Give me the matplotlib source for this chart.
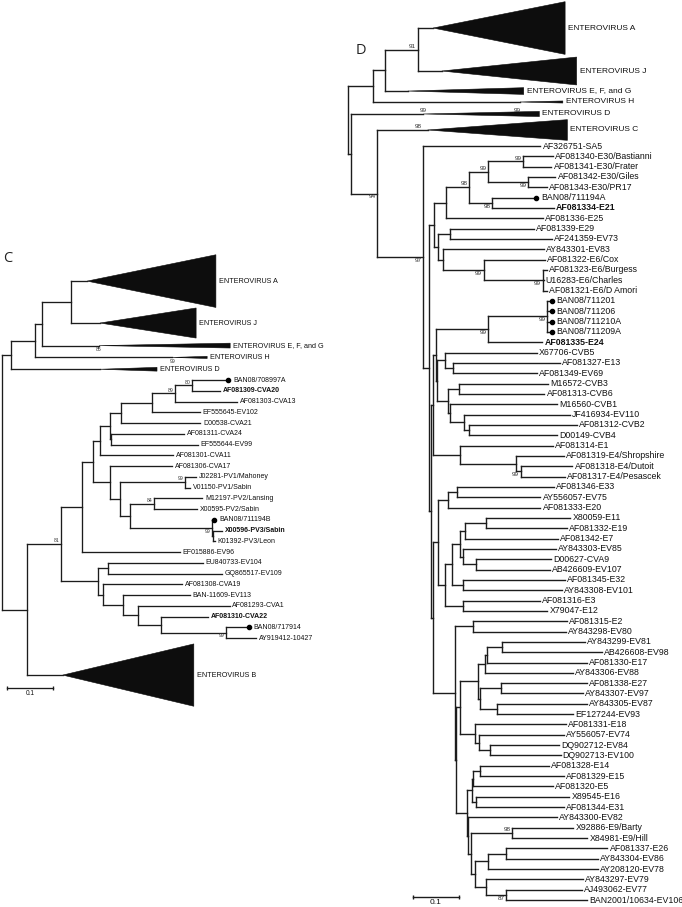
#!/usr/bin/env python
"""
Two collapsed enterovirus trees (panels C and D) drawn as rectangular cladograms.
"""

import matplotlib

matplotlib.use("Agg")
import matplotlib.pyplot as plt
from matplotlib.collections import LineCollection
from matplotlib.patches import Polygon

# ---------------------------------------------------------------------------
# Panel C  (branch lengths in substitutions/site, support after ")")
# ---------------------------------------------------------------------------
C_OTHER_SPECIES = "((((EV-A:0.035,EV-J:0.063):0.063,EV-EFG:0.124):0.015,EV-H:0.298):0.052,EV-D:0.193):0.020"
C_CVA20 = "(BAN08/708997A:0.076,AF081309-CVA20:0.061)80:0.037"
C_CVA13 = f"(((({C_CVA20},AF081303-CVA13:0.135)89:0.050,EF555645-EV102:0.104):0.067,D00538-CVA21:0.172):0.024,(AF081311-CVA24:0.159,EF555644-EV99:0.189):0.002):0.022"
C_CVA11 = f"({C_CVA13},AF081301-CVA11:0.159):0.015"
C_PV1 = "(J02281-PV1/Mahoney:0.024,V01150-PV1/Sabin:0.011)99:0.141"
C_PV2 = "(M12197-PV2/Lansing:0.104,X00595-PV2/Sabin:0.093)84:0.052"
C_PV3 = "(BAN08/711194B:0.002,(X00596-PV3/Sabin:0.020,K01392-PV3/Leon:0.004):0.002)99:0.178"
C_POLIO = f"(AF081306-CVA17:0.135,({C_PV1},({C_PV2},{C_PV3}):0.022):0.022):0.037"
C_UPPER = f"(({C_CVA11},{C_POLIO}):0.024,EF015886-EV96:0.213):0.046"
C_LOWER = ("((EU840733-EV104:0.207,GQ865517-EV109:0.248):0.022,(AF081308-CVA19:0.172,"
           "(BAN-11609-EV113:0.146,(AF081293-CVA1:0.200,(AF081310-CVA22:0.102,"
           "(BAN08/717914:0.046,AY919412-10427:0.065)99:0.143):0.050):0.033):0.043):0.011):0.080")
TREE_C = f"({C_OTHER_SPECIES},(({C_UPPER},{C_LOWER})81:0.074,EV-B:0.078):0.054);"

C_CLADES = ["EV-A", "EV-J", "EV-EFG", "EV-H", "EV-D", "EV-B"]
C_CLADE_NAMES = ["ENTEROVIRUS A", "ENTEROVIRUS J", "ENTEROVIRUS E, F, and G",
                 "ENTEROVIRUS H", "ENTEROVIRUS D", "ENTEROVIRUS B"]
C_CLADE_DEPTH = [0.280, 0.209, 0.285, 0.076, 0.124, 0.285]
C_CLADE_WIDTH = [4.9, 2.8, 0.45, 0.2, 0.35, 5.8]
C_CLADE_ROWS = [4.6, 3.2, 1.0, 1.2, 1.0, 5.9]
C_CLADE_SUPPORT = {"EV-EFG": [(0.0, "85")], "EV-H": [(0.0, "99")]}
C_BOLD = ["AF081309-CVA20", "X00596-PV3/Sabin", "AF081310-CVA22"]
C_DOTS = ["BAN08/708997A", "BAN08/711194B", "BAN08/717914"]

# ---------------------------------------------------------------------------
# Panel D
# ---------------------------------------------------------------------------
D_OTHER_SPECIES = "(((EV-A:0.033,EV-J:0.052)91:0.072,EV-EFG:0.050):0.026,EV-H:0.320):0.054"
D_E30 = ("((AF081340-E30/Bastianni:0.065,AF081341-E30/Frater:0.061)99:0.076,"
         "(AF081342-E30/Giles:0.059,AF081343-E30/PR17:0.041)99:0.087)99:0.041")
D_E21 = f"(({D_E30},(BAN08/711194A:0.093,AF081334-E21:0.133)98:0.050)98:0.050,AF081336-E25:0.209):0.028"
D_E6 = ("((AF081339-E29:0.183,AF241359-EV73:0.222):0.026,(AY843301-EV83:0.220,"
        "(AF081322-E6/Cox:0.133,(AF081323-E6/Burgess:0.009,U16283-E6/Charles:0.002,"
        "AF081321-E6/D Amori:0.009)99:0.128)99:0.089):0.011):0.009")
D_E24 = ("((BAN08/711201:0.007,BAN08/711206:0.007,BAN08/711210A:0.007,BAN08/711209A:0.007)99:0.128,"
         "AF081335-E24:0.117)99:0.113")
D_CVB = ("((X67706-CVB5:0.200,(AF081327-E13:0.233,AF081349-EV69:0.183):0.017):0.017,"
         "((M16572-CVB3:0.193,AF081313-CVB6:0.185):0.024,(M16560-CVB1:0.233,"
         "(JF416934-EV110:0.230,(AF081312-CVB2:0.235,D00149-CVB4:0.191):0.011):0.030):0.004):0.024):0.002")
D_E4 = ("(AF081314-E1:0.202,(AF081319-E4/Shropshire:0.104,(AF081318-E4/Dutoit:0.113,"
        "AF081317-E4/Pesascek:0.096)99:0.009):0.122):0.059")
D_E20 = "((AF081346-E33:0.209,AY556057-EV75:0.180):0.020,AF081333-E20:0.200):0.022"
D_E11 = ("((((X80059-E11:0.183,AF081332-E19:0.176):0.046,AF081342-E7:0.202):0.011,"
         "(AY843303-EV85:0.202,(D00627-CVA9:0.163,AB426609-EV107:0.161):0.028):0.007):0.017,"
         "(AF081345-E32:0.222,AY843308-EV101:0.215):0.024):0.015")
D_E3 = f"({D_E11},(AF081316-E3:0.167,X79047-E12:0.183):0.039):0.015"
D_E17 = ("((((AY843299-EV81:0.180,AB426608-EV98:0.217):0.033,AF081330-E17:0.217):0.004,"
         "AY843306-EV88:0.191):0.015,((AF081338-E27:0.187,AY843307-EV97:0.178):0.046,"
         "(AY843305-EV87:0.196,EF127244-EV93:0.165):0.037):0.004):0.039")
D_E18 = ("(AF081331-E18:0.196,(AY556057-EV74:0.185,(DQ902712-EV84:0.150,"
         "DQ902713-EV100:0.154):0.024):0.007):0.033")
D_E14 = ("(((AF081328-E14:0.150,AF081329-E15:0.183):0.015,AF081320-E5:0.174):0.002,"
         "(X89545-E16:0.202,AF081344-E31:0.191):0.009):0.011")
D_E9 = ("(AY843300-EV82:0.193,((X92886-E9/Barty:0.133,X84981-E9/Hill:0.163)98:0.089,"
        "(((AF081337-E26:0.220,AY843304-EV86:0.200):0.039,AY208120-EV78:0.239):0.030,"
        "(AY843297-EV79:0.209,(AJ493062-EV77:0.165,BAN2001/10634-EV106:0.176)87:0.043):0.026)"
        ":0.007):0.007):0.002")
D_E2 = (f"((AF081315-E2:0.204,AY843298-EV80:0.202):0.039,"
        f"(({D_E17},{D_E18}):0.009,({D_E14},{D_E9}):0.024):0.002):0.048")
D_EVB = (f"(({D_E21},{D_E6}):0.009,((({D_E24},{D_CVB}):0.007,{D_E4}):0.004,"
         f"(({D_E20},{D_E3}):0.011,{D_E2}):0.004):0.004):0.013")
TREE_D = (f"({D_OTHER_SPECIES},(EV-D:0.157,(EV-C:0.109,(AF326751-SA5:0.254,"
          f"{D_EVB})97:0.100)94:0.057):0.007);")

D_CLADES = ["EV-A", "EV-J", "EV-EFG", "EV-H", "EV-D", "EV-C"]
D_CLADE_NAMES = ["ENTEROVIRUS A", "ENTEROVIRUS J", "ENTEROVIRUS E, F, and G",
                 "ENTEROVIRUS H", "ENTEROVIRUS D", "ENTEROVIRUS C"]
D_CLADE_DEPTH = [0.287, 0.293, 0.252, 0.093, 0.252, 0.304]
D_CLADE_WIDTH = [5.1, 2.7, 0.65, 0.2, 0.5, 2.0]
D_CLADE_ROWS = [5.24, 3.08, 0.8, 1.32, 1.0, 2.1]
D_CLADE_SUPPORT = {"EV-D": [(0.0, "99"), (0.204, "99")], "EV-C": [(-0.02, "98")]}
D_BOLD = ["AF081334-E21", "AF081335-E24"]
D_DOTS = ["BAN08/711194A", "BAN08/711201", "BAN08/711206", "BAN08/711210A", "BAN08/711209A"]

SCALE_BAR = 0.1

# ---------------------------------------------------------------------------
# styling / layout
# ---------------------------------------------------------------------------
W, H = 682, 907
PX_PER_SUB = 460.0
LINE = "#1c1c1c"

PANEL_C = dict(root_px=2, anchor="BAN08/708997A", anchor_px=380, row_px=10.75,
               leaf_fs=5.0, clade_fs=5.2, support_fs=3.7, lw=0.95, gap=2.0,
               below={"BAN08/711194B", "BAN08/717914"}, clade_support_below=True,
               bar_x_px=7, bar_rows=1.2, letter="C", letter_xy=(3, 258))
PANEL_D = dict(root_px=348, anchor="AF326751-SA5", anchor_px=146, row_px=10.33,
               leaf_fs=6.3, clade_fs=6.0, support_fs=4.6, lw=1.0, gap=1.6,
               below={"AF081342-E30/Giles", "BAN08/711194A", "AF081322-E6/Cox",
                      "AF081323-E6/Burgess", "AF081318-E4/Dutoit", "AJ493062-EV77",
                      "BAN08/711201", "EV-C", "AF326751-SA5"},
               clade_support_below=False,
               bar_x_px=413, bar_rows=-0.3, letter="D", letter_xy=(356, 50))

plt.rcParams["font.family"] = ["Liberation Sans", "DejaVu Sans"]


def parse_newick(s):
    pos = 0

    def node():
        nonlocal pos
        n = {"children": [], "name": "", "support": "", "length": 0.0}
        if s[pos] == "(":
            pos += 1
            while True:
                n["children"].append(node())
                ch = s[pos]
                pos += 1
                if ch == ")":
                    break
        start = pos
        while s[pos] not in ",():;":
            pos += 1
        label = s[start:pos]
        if n["children"]:
            n["support"] = label
        else:
            n["name"] = label
        if s[pos] == ":":
            pos += 1
            start = pos
            while s[pos] not in ",();":
                pos += 1
            n["length"] = float(s[start:pos])
        return n

    return node()


def layout(tree, rows):
    tips = []

    def place_x(n, x0):
        n["x"] = x0 + n["length"]
        for c in n["children"]:
            place_x(c, n["x"])
        if not n["children"]:
            tips.append(n)

    place_x(tree, 0.0)
    y, prev = 0.0, None
    for t in tips:
        span = rows.get(t["name"], 1.0)
        if prev is not None:
            y += (prev + span) / 2.0
        t["y"] = y
        prev = span

    def place_y(n):
        if n["children"]:
            ys = [place_y(c) for c in n["children"]]
            n["y"] = (ys[0] + ys[-1]) / 2.0
        return n["y"]

    place_y(tree)
    return tips


def first_tip(n):
    while n["children"]:
        n = n["children"][0]
    return n["name"]


def draw_panel(ax, newick, clades, names, depth, width, rows, clade_support,
               bold, dots, st):
    tree = parse_newick(newick)
    tips = layout(tree, dict(zip(clades, rows)))
    anchor_y = next(t["y"] for t in tips if t["name"] == st["anchor"])

    x0 = st["root_px"] / PX_PER_SUB
    ax.set_xlim(-x0, W / PX_PER_SUB - x0)
    ax.set_ylim(anchor_y + (H - st["anchor_px"]) / st["row_px"],
                anchor_y - st["anchor_px"] / st["row_px"])
    ax.axis("off")

    segs = []
    nodes = []

    def walk(n, px):
        segs.append([(px, n["y"]), (n["x"], n["y"])])
        if n["children"]:
            nodes.append(n)
            segs.append([(n["x"], n["children"][0]["y"]), (n["x"], n["children"][-1]["y"])])
            for c in n["children"]:
                walk(c, n["x"])

    walk(tree, tree["x"])
    ax.add_collection(LineCollection(segs, colors=LINE, linewidths=st["lw"],
                                     capstyle="projecting"))

    # internal support values
    for n in nodes:
        if not n["support"]:
            continue
        below = first_tip(n) in st["below"]
        ax.annotate(n["support"], (n["x"], n["y"]), xytext=(-1.3, -0.6 if below else 0.6),
                    textcoords="offset points", ha="right",
                    va="top" if below else "bottom", fontsize=st["support_fs"], color="#333333")

    clade_info = {c: (nm, d, w) for c, nm, d, w in zip(clades, names, depth, width)}
    for t in tips:
        x, y = t["x"], t["y"]
        if t["name"] in clade_info:
            nm, d, w = clade_info[t["name"]]
            ax.add_patch(Polygon([(x, y), (x + d, y - w / 2), (x + d, y + w / 2)],
                                 closed=True, fc="#0d0d0d", ec="#0d0d0d", lw=0.4))
            ax.annotate(nm, (x + d, y), xytext=(2.2, 0), textcoords="offset points",
                        ha="left", va="center", fontsize=st["clade_fs"], color="#111111")
            for off, lab in clade_support.get(t["name"], []):
                b = st["clade_support_below"]
                ax.annotate(lab, (x + off, y), xytext=(0, -1.2 if b else 1.0),
                            textcoords="offset points", ha="center",
                            va="top" if b else "bottom", fontsize=st["support_fs"],
                            color="#333333")
            continue
        gap = st["gap"]
        if t["name"] in dots:
            ax.plot([x + 1.2 / PX_PER_SUB], [y], "o", ms=3.0, color="black")
            gap = 4.4
        ax.annotate(t["name"], (x, y), xytext=(gap, 0), textcoords="offset points",
                    ha="left", va="center", fontsize=st["leaf_fs"], color="#111111",
                    fontweight="bold" if t["name"] in bold else "normal")

    # scale bar
    bx = st["bar_x_px"] / PX_PER_SUB - x0
    by = tips[-1]["y"] + st["bar_rows"]
    ax.plot([bx, bx + SCALE_BAR], [by, by], color=LINE, lw=st["lw"])
    ax.plot([bx, bx + SCALE_BAR], [by, by], "|", color=LINE, ms=3.5, mew=st["lw"])
    ax.annotate(f"{SCALE_BAR:g}", (bx + SCALE_BAR / 2, by), xytext=(0, -1.5),
                textcoords="offset points", ha="center", va="top",
                fontsize=st["leaf_fs"] - 0.3, color="#111111")


fig = plt.figure(figsize=(W / 100, H / 100), dpi=100)
fig.patch.set_facecolor("white")

ax_c = fig.add_axes([0, 0, 1, 1])
ax_c.patch.set_alpha(0)
draw_panel(ax_c, TREE_C, C_CLADES, C_CLADE_NAMES, C_CLADE_DEPTH, C_CLADE_WIDTH,
           C_CLADE_ROWS, C_CLADE_SUPPORT, C_BOLD, C_DOTS, PANEL_C)

ax_d = fig.add_axes([0, 0, 1, 1])
ax_d.patch.set_alpha(0)
draw_panel(ax_d, TREE_D, D_CLADES, D_CLADE_NAMES, D_CLADE_DEPTH, D_CLADE_WIDTH,
           D_CLADE_ROWS, D_CLADE_SUPPORT, D_BOLD, D_DOTS, PANEL_D)

for st in (PANEL_C, PANEL_D):
    lx, ly = st["letter_xy"]
    fig.text(lx / W, 1 - ly / H, st["letter"], fontsize=10.5, family="Open Sans",
             ha="left", va="center", color="#222222")

fig.savefig("out.png", dpi=100)
